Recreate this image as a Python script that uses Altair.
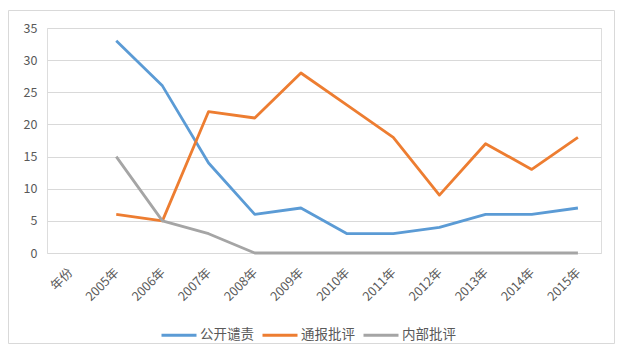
import altair as alt
import pandas as pd

categories = ["年份", "2005年", "2006年", "2007年", "2008年", "2009年", "2010年",
              "2011年", "2012年", "2013年", "2014年", "2015年"]
years = categories[1:]
series_names = ["公开谴责", "通报批评", "内部批评"]
gongkai = [33, 26, 14, 6, 7, 3, 3, 4, 6, 6, 7]
tongbao = [6, 5, 22, 21, 28, 23, 18, 9, 17, 13, 18]
neibu = [15, 5, 3, 0, 0, 0, 0, 0, 0, 0, 0]
colors = ["#5B9BD5", "#ED7D31", "#A5A5A5"]

rows = []
for name, vals in zip(series_names, [gongkai, tongbao, neibu]):
    for y, v in zip(years, vals):
        rows.append({"year": y, "series": name, "value": v})
df = pd.DataFrame(rows)

FONT = "Noto Sans CJK SC"

border = alt.Chart(pd.DataFrame({"a": [0]})).mark_rect(
    filled=False, stroke="#D9D9D9", strokeWidth=1, clip=False
).encode(x=alt.value(-38.5), x2=alt.value(567.5), y=alt.value(-17.5), y2=alt.value(315.5))

lines = alt.Chart(df).mark_line(strokeWidth=2.8, strokeJoin="round").encode(
    x=alt.X("year:N", sort=categories,
            scale=alt.Scale(domain=categories, type="point", padding=0.5),
            axis=alt.Axis(title=None, labelAngle=-45, labelAlign="right", labelBaseline="middle",
                          labelPadding=17, ticks=False, domain=False, grid=False,
                          labelFont=FONT, labelFontSize=12.5, labelColor="#595959")),
    y=alt.Y("value:Q", scale=alt.Scale(domain=[0, 35]),
            axis=alt.Axis(title=None, values=[0, 5, 10, 15, 20, 25, 30, 35], ticks=False, domain=False,
                          gridColor="#D9D9D9", gridWidth=1, labelPadding=10,
                          labelFont=FONT, labelFontSize=12.5, labelColor="#595959")),
    color=alt.Color("series:N", scale=alt.Scale(domain=series_names, range=colors),
                    legend=alt.Legend(title=None, orient="none", direction="horizontal",
                                      legendX=113, legendY=288, symbolType="stroke",
                                      symbolSize=1225, symbolStrokeWidth=3, labelFont=FONT,
                                      labelFontSize=13.5, labelColor="#595959", columnPadding=2,
                                      labelOffset=2)),
    order=alt.Order("series:N")
)

chart = alt.layer(border, lines).properties(
    width=554, height=225,
    autosize=alt.AutoSizeParams(type="none"),
    padding={"left": 39, "top": 20, "right": 14, "bottom": 99},
).configure_view(stroke=None).configure(background="white")

chart.save("out.html", embed_options={"renderer": "svg", "actions": False})
